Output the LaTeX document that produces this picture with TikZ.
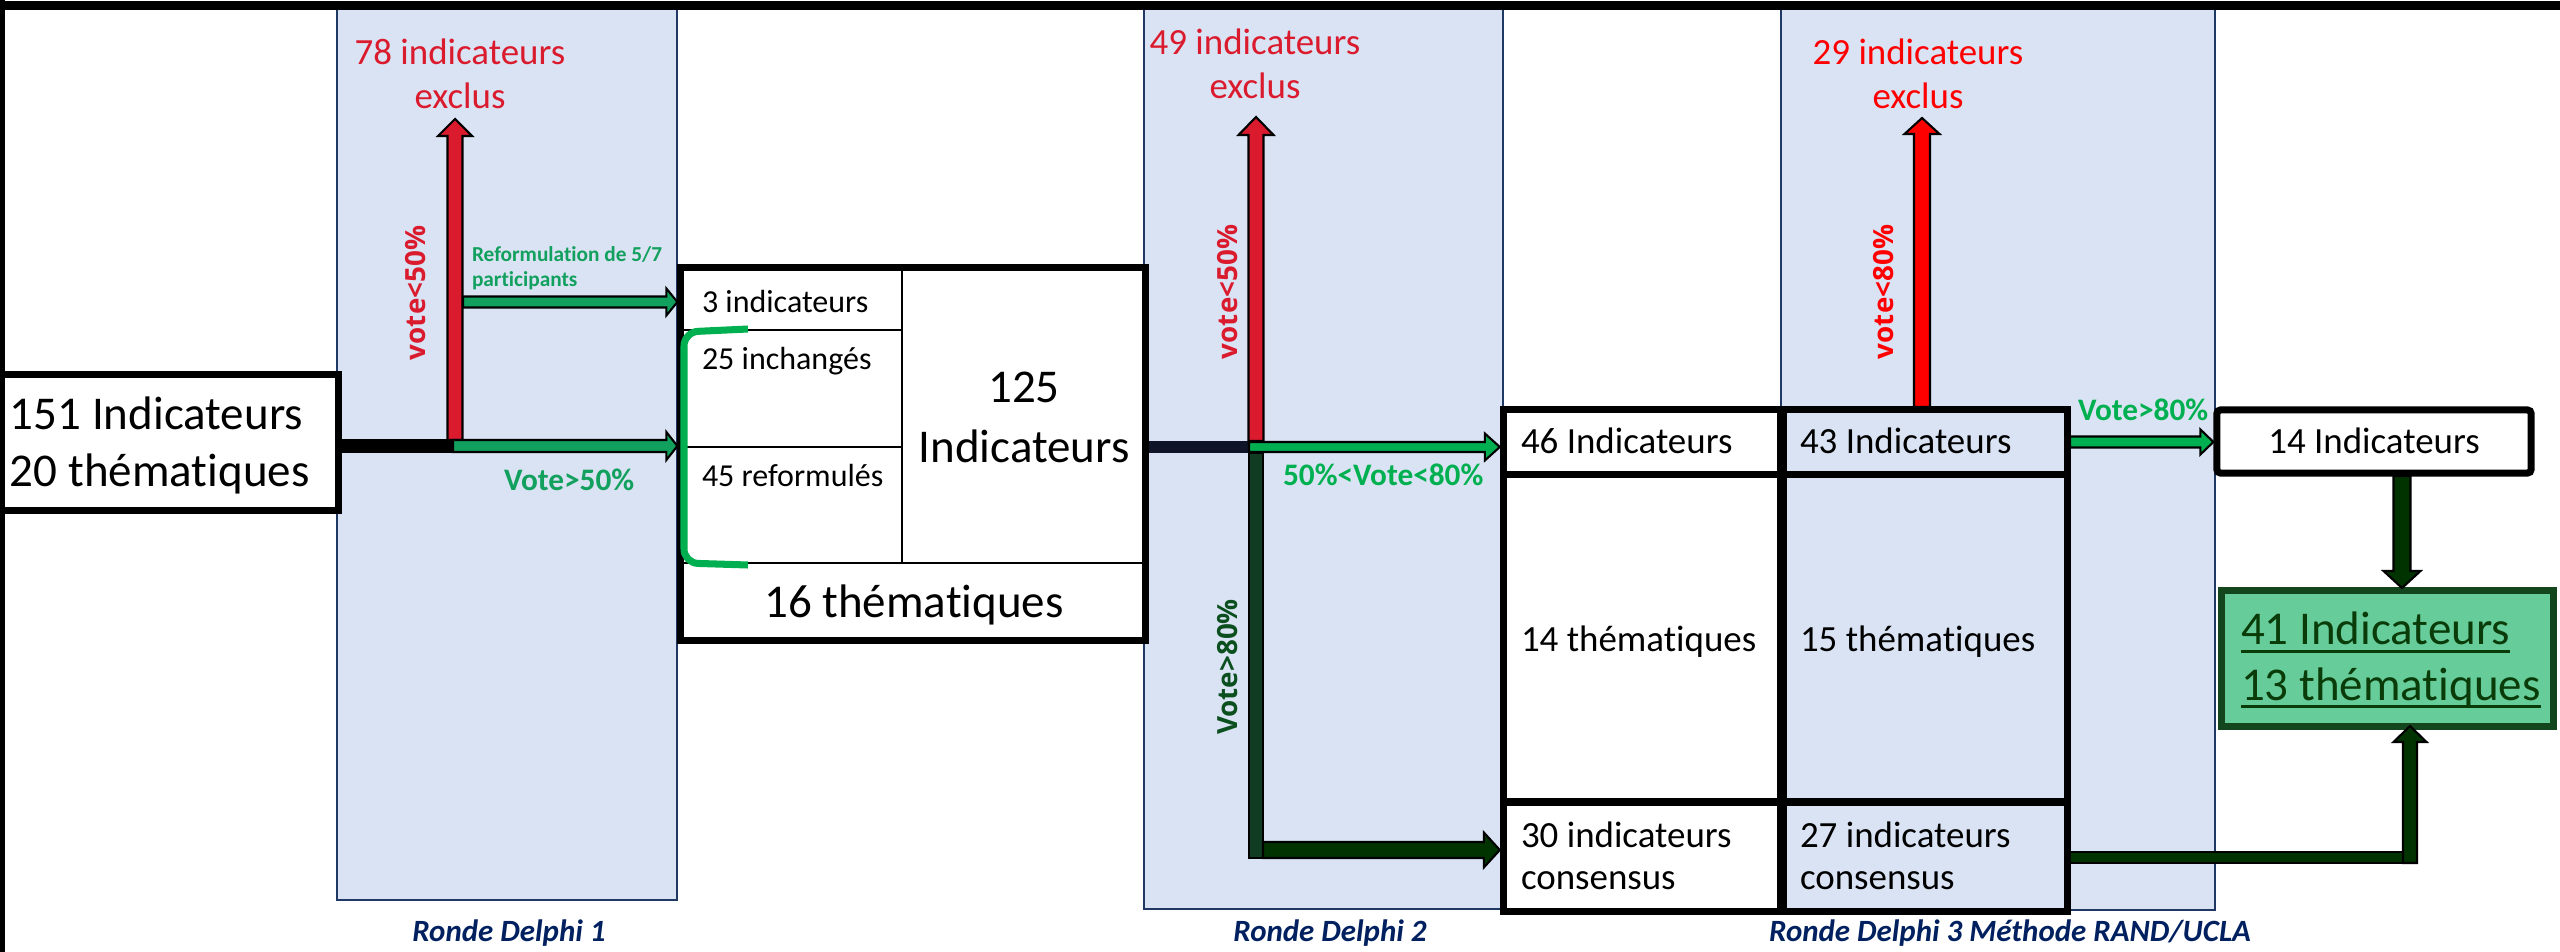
\documentclass[tikz,border=0pt]{standalone}
\usepackage{fontspec}
\setmainfont{Carlito}[Ligatures=NoCommon]
\newfontfamily\vfont{Open Sans}
\usetikzlibrary{calc}

\definecolor{panelfill}{HTML}{DAE3F3}
\definecolor{paneldraw}{HTML}{1F3864}
\definecolor{crim}{HTML}{DA1A2D}
\definecolor{pred}{HTML}{FF0000}
\definecolor{gA}{HTML}{12A05E}
\definecolor{gB}{HTML}{00B050}
\definecolor{dkg}{HTML}{003300}
\definecolor{dkbar}{HTML}{103C24}
\definecolor{vgreen}{HTML}{0B4F1F}
\definecolor{finfill}{HTML}{66CC99}
\definecolor{findraw}{HTML}{14461E}
\definecolor{fintext}{HTML}{0A3C0A}
\definecolor{navy}{HTML}{002060}
\definecolor{conn}{HTML}{0F1428}

\newcommand\twol[3]{\begin{tabular}[t]{@{}#1@{}}#2\\#3\end{tabular}}
\newcommand\myul[1]{\setbox0\hbox{#1}\rlap{\rule[-2.3pt]{\wd0}{0.85pt}}\box0}
\newcommand\myfA{\fontsize{13.37pt}{16.2pt}\selectfont}
\newcommand\myfB{\fontsize{10.5pt}{12.5pt}\selectfont}
\newcommand\myfC{\fontsize{9.1pt}{11pt}\selectfont}
\newcommand\myfD{\fontsize{6.06pt}{7.1pt}\selectfont\bfseries}
\newcommand\myfE{\fontsize{8.9pt}{10.7pt}\selectfont\bfseries}
\newcommand\myfR{\vfont\fontsize{7.9pt}{9pt}\selectfont\bfseries}
\newcommand\myfL{\fontsize{8.8pt}{10.5pt}\selectfont\bfseries\itshape}

% right-pointing block arrow: style, start, tip, shaft half, head half, head length
\newcommand\rarr[6]{%
 \filldraw[#1] ($(#2)+(0,-#4)$) -- ($(#3)+(-#6,-#4)$) -- ($(#3)+(-#6,-#5)$) -- (#3)
   -- ($(#3)+(-#6,#5)$) -- ($(#3)+(-#6,#4)$) -- ($(#2)+(0,#4)$) -- cycle;}
% vertical block arrow: style, start, tip, shaft half, head half, head offset (+ up, - down)
\newcommand\varr[6]{%
 \filldraw[#1] ($(#2)+(-#4,0)$) -- ($(#3)+(-#4,#6)$) -- ($(#3)+(-#5,#6)$) -- (#3)
   -- ($(#3)+(#5,#6)$) -- ($(#3)+(#4,#6)$) -- ($(#2)+(#4,0)$) -- cycle;}

\tikzset{
 panel/.style={draw=paneldraw, fill=panelfill, line width=0.6pt, inner sep=0},
 box/.style={draw=black, fill=white, line width=2pt, inner sep=0},
 txt/.style={inner sep=0, outer sep=0},
 thinrule/.style={draw=black, line width=0.6pt},
 arr/.style={draw=black, line width=0.6pt, line join=miter},
}

\begin{document}
\begin{tikzpicture}[x=0.01cm,y=-0.01cm]
\useasboundingbox (0,0) rectangle (2560,952);

% panels
\node[panel, minimum width=3.40cm, minimum height=8.92cm] (p1) at (507,454) {};
\node[panel, minimum width=3.59cm, minimum height=9.01cm] (p2) at (1323.5,458.5) {};
\node[panel, minimum width=4.34cm, minimum height=9.02cm] (p3) at (1998,459) {};

% boxes
\node[box, minimum width=3.385cm, minimum height=1.355cm] (b151) at (169.25,442.75) {};
\node[box, minimum width=4.64cm, minimum height=3.72cm] (b125) at (913,454) {};
\draw[thinrule] (901.6,268) -- (901.6,562.7);
\draw[thinrule] (681,330) -- (901.6,330);
\draw[thinrule] (681,447.3) -- (901.6,447.3);
\draw[thinrule] (681,562.7) -- (1145,562.7);

\node[box, fill=none, minimum width=5.635cm, minimum height=5.01cm] (tab) at (1785.25,660.5) {};
\draw[line width=2.85pt] (1781.5,410) -- (1781.5,911);
\draw[line width=2pt] (1503.5,474.5) -- (2067,474.5);
\draw[line width=2pt] (1503.5,802) -- (2067,802);

\node[box, rounded corners=1pt, minimum width=3.14cm, minimum height=0.63cm] (b14) at (2374,441.5) {};
\node[box, fill=finfill, draw=findraw, minimum width=3.31cm, minimum height=1.355cm] (bfin) at (2387.5,658.75) {};

% green bracket
\draw[gB, line width=2pt, rounded corners=4pt] (748,329) -- (684,332) -- (684,563) -- (748,565);

% box texts
\node[txt, anchor=base west] (t151) at (10,430) {\myfA\twol{l}{151 Indicateurs}{20 thématiques}};
\node[txt, anchor=base west] (t3) at (702,313) {\myfC 3 indicateurs};
\node[txt, anchor=base west] (t25) at (702,370) {\myfC 25 inchangés};
\node[txt, anchor=base west] (t45) at (702,487) {\myfC 45 reformulés};
\node[txt, anchor=base] (t125) at (1024,403) {\fontsize{13.37pt}{16.8pt}\selectfont\twol{c}{125}{Indicateurs}};
\node[txt, anchor=base] (t16) at (914,617) {\myfA 16 thématiques};
\node[txt, anchor=base west] (t46) at (1521,454) {\myfB 46 Indicateurs};
\node[txt, anchor=base west] (t43) at (1800,454) {\myfB 43 Indicateurs};
\node[txt, anchor=base west] (t14t) at (1521,651) {\myfB 14 thématiques};
\node[txt, anchor=base west] (t15t) at (1800,651) {\myfB 15 thématiques};
\node[txt, anchor=base west] (t30) at (1521,847) {\fontsize{10.5pt}{12.2pt}\selectfont\twol{l}{30 indicateurs}{consensus}};
\node[txt, anchor=base west] (t27) at (1800,847) {\fontsize{10.5pt}{12.2pt}\selectfont\twol{l}{27 indicateurs}{consensus}};
\node[txt, anchor=base] (t14) at (2374,454) {\myfB 14 Indicateurs};
\node[txt, anchor=base west, text=fintext] (t41) at (2241,645) {\fontsize{13.37pt}{15.65pt}\selectfont\twol{l}{\myul{41 Indicateurs}}{\myul{13 thématiques}}};

% red labels
\node[txt, anchor=base, text=crim] (ex78) at (460,65) {\myfB\twol{c}{78 indicateurs}{exclus}};
\node[txt, anchor=base, text=crim] (ex49) at (1255,55) {\myfB\twol{c}{49 indicateurs}{exclus}};
\node[txt, anchor=base, text=pred] (ex29) at (1918,65) {\myfB\twol{c}{29 indicateurs}{exclus}};

% rotated labels
\node[txt, rotate=90, text=crim] (vl1) at (416,293) {\myfR vote<50\%};
\node[txt, rotate=90, text=crim] (vl2) at (1228,292) {\myfR vote<50\%};
\node[txt, rotate=90, text=pred] (vl3) at (1884,292) {\myfR vote<80\%};
\node[txt, rotate=90, text=vgreen] (vl4) at (1228,667) {\myfR Vote>80\%};

% green labels
\node[txt, anchor=base west, text=gA] (ref) at (472,262) {\myfD\twol{l}{Reformulation de 5/7}{participants}};
\node[txt, anchor=base west, text=gA] (g50) at (504,491) {\myfE Vote>50\%};
\node[txt, anchor=base west, text=gB] (g5080) at (1283,486) {\myfE 50\%<Vote<80\%};
\node[txt, anchor=base west, text=gB] (g80) at (2078,421) {\myfE Vote>80\%};

% bottom labels
\node[txt, anchor=base, text=navy] (rd1) at (509,941) {\myfL Ronde Delphi 1};
\node[txt, anchor=base, text=navy] (rd2) at (1330,941) {\myfL Ronde Delphi 2};
\node[txt, anchor=base, text=navy] (rd3) at (2010,941) {\myfL Ronde Delphi 3 Méthode RAND/UCLA};

% ---- round 1 connectors
\coordinate (J1) at (455,446);
\draw[black, line width=3.7pt] (b151.east |- J1) -- (J1);
\coordinate (R1b) at (455,440);
\coordinate (R1t) at (455,119);
\varr{arr, fill=crim}{R1b}{R1t}{7.5}{17}{17}
\coordinate (G1a) at (463,302);
\coordinate (G1b) at (b125.west |- G1a);
\rarr{arr, fill=gA}{G1a}{G1b}{5.5}{13.5}{11}
\coordinate (G2a) at (453,446);
\coordinate (G2b) at (b125.west |- G2a);
\rarr{arr, fill=gA}{G2a}{G2b}{6}{14}{11}

% ---- round 2 connectors
\coordinate (J2) at (1256,447);
\draw[conn, line width=3.13pt] (b125.east |- J2) -- (J2);
\coordinate (R2b) at (1256,441);
\coordinate (R2t) at (1256,117);
\varr{arr, fill=crim}{R2b}{R2t}{7.5}{17.5}{18}
\filldraw[arr, fill=dkbar] (1249,453) rectangle (1263,858);
\coordinate (G3a) at (1249,447);
\coordinate (G3b) at (tab.west |- G3a);
\rarr{arr, fill=gB}{G3a}{G3b}{5}{13.5}{15}
\coordinate (D1a) at (1263,850);
\coordinate (D1b) at (tab.west |- D1a);
\rarr{arr, fill=dkg}{D1a}{D1b}{8}{17.5}{16}

% ---- round 3 connectors
\coordinate (R3b) at (1922,407);
\coordinate (R3t) at (1922,118);
\varr{arr, fill=pred}{R3b}{R3t}{8}{17.5}{16}
\coordinate (G4a) at (2070,442);
\coordinate (G4b) at (b14.west |- G4a);
\rarr{arr, fill=gB}{G4a}{G4b}{5.5}{12.5}{13}
\coordinate (D2a) at (2402,476);
\coordinate (D2b) at (2402,588);
\varr{arr, fill=dkg}{D2a}{D2b}{8.5}{18.5}{-17}
\filldraw[arr, fill=dkg] (2070,852) rectangle (2417,863);
\coordinate (D3a) at (2410,863);
\coordinate (D3b) at (2410,726);
\varr{arr, fill=dkg}{D3a}{D3b}{7}{16.5}{16}

% frame
\fill[black] (0,1.5) rectangle (2560,10.5);
\fill[black] (0,0) rectangle (5,952);
\end{tikzpicture}
\end{document}
